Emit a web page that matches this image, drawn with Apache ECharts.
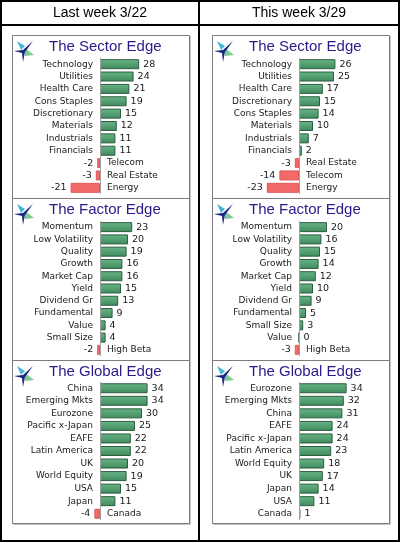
<!DOCTYPE html>
<html>
<head>
<meta charset="utf-8">
<script src="https://cdn.jsdelivr.net/npm/echarts@6/dist/echarts.min.js"></script>
<style>
  html, body { margin: 0; padding: 0; background: #fff; }
  #chart { width: 400px; height: 542px; }
</style>
</head>
<body>
<div id="chart"></div>
<script>
const headers = ["Last week 3/22", "This week 3/29"];
const titles = ["The Sector Edge", "The Factor Edge", "The Global Edge"];

const sectorLastCats = ["Technology", "Utilities", "Health Care", "Cons Staples", "Discretionary", "Materials", "Industrials", "Financials", "Telecom", "Real Estate", "Energy"];
const sectorLastVals = [28, 24, 21, 19, 15, 12, 11, 11, -2, -3, -21];
const sectorThisCats = ["Technology", "Utilities", "Health Care", "Discretionary", "Cons Staples", "Materials", "Industrials", "Financials", "Real Estate", "Telecom", "Energy"];
const sectorThisVals = [26, 25, 17, 15, 14, 10, 7, 2, -3, -14, -23];

const factorLastCats = ["Momentum", "Low Volatility", "Quality", "Growth", "Market Cap", "Yield", "Dividend Gr", "Fundamental", "Value", "Small Size", "High Beta"];
const factorLastVals = [23, 20, 19, 16, 16, 15, 13, 9, 4, 4, -2];
const factorThisCats = ["Momentum", "Low Volatility", "Quality", "Growth", "Market Cap", "Yield", "Dividend Gr", "Fundamental", "Small Size", "Value", "High Beta"];
const factorThisVals = [20, 16, 15, 14, 12, 10, 9, 5, 3, 0, -3];

const globalLastCats = ["China", "Emerging Mkts", "Eurozone", "Pacific x-Japan", "EAFE", "Latin America", "UK", "World Equity", "USA", "Japan", "Canada"];
const globalLastVals = [34, 34, 30, 25, 22, 22, 20, 19, 15, 11, -4];
const globalThisCats = ["Eurozone", "Emerging Mkts", "China", "EAFE", "Pacific x-Japan", "Latin America", "World Equity", "UK", "Japan", "USA", "Canada"];
const globalThisVals = [34, 32, 31, 24, 24, 23, 18, 17, 14, 11, 1];

const panels = [
  { col: 0, row: 0, cats: sectorLastCats, vals: sectorLastVals },
  { col: 1, row: 0, cats: sectorThisCats, vals: sectorThisVals },
  { col: 0, row: 1, cats: factorLastCats, vals: factorLastVals },
  { col: 1, row: 1, cats: factorThisCats, vals: factorThisVals },
  { col: 0, row: 2, cats: globalLastCats, vals: globalLastVals },
  { col: 1, row: 2, cats: globalThisCats, vals: globalThisVals },
];

const FONT = "DejaVu Sans";
const TITLE_FONT = "Liberation Sans";
const TEXT = "#1a1a1a";
const boxLeft = [12, 212];
const boxWidth = 177;
const boxTop = [35, 198, 360, 523];
const zeroX = [100, 299];
const gridTop = [58, 221, 382];
const gridHeight = [136, 135, 138];
const titleY = [47, 210, 372];

const greenStyle = {
  color: new echarts.graphic.LinearGradient(0, 0, 0, 1, [
    { offset: 0, color: "#68b586" },
    { offset: 1, color: "#3f8a5d" },
  ]),
  borderColor: "#2e5c41",
  borderWidth: 1,
};
const redStyle = { color: "#f26a6a", borderColor: "#e05858", borderWidth: 1 };

function logo(x, y) {
  return [
    { type: "polygon", shape: { points: [[x + 4, y + 3], [x + 12, y + 8], [x + 8, y + 12]] }, style: { fill: "#48b4d8" } },
    { type: "polygon", shape: { points: [[x + 12, y + 10], [x + 21, y + 17], [x + 12, y + 18]] }, style: { fill: "#7ccb92" } },
    { type: "polygon", shape: { points: [[x + 20, y + 3], [x + 12, y + 14], [x + 10, y + 24], [x + 9, y + 15], [x + 1, y + 13], [x + 10, y + 12]] }, style: { fill: "#1c2484" } },
  ];
}

const graphics = [];
// outer frame
graphics.push({ type: "rect", shape: { x: 1, y: 1, width: 398, height: 540 }, style: { fill: "none", stroke: "#000", lineWidth: 2 } });
graphics.push({ type: "line", shape: { x1: 0, y1: 25, x2: 400, y2: 25 }, style: { stroke: "#000", lineWidth: 2 } });
graphics.push({ type: "line", shape: { x1: 199, y1: 0, x2: 199, y2: 542 }, style: { stroke: "#000", lineWidth: 2 } });
headers.forEach((h, c) => {
  graphics.push({
    type: "text", x: c === 0 ? 100 : 299, y: 13,
    style: { text: h, fontFamily: TITLE_FONT, fontSize: 14, fill: "#000", align: "center", verticalAlign: "middle" },
  });
});

[0, 1].forEach((c) => {
  const x = boxLeft[c];
  for (let r = 0; r < 3; r++) {
    const y0 = boxTop[r];
    const h = boxTop[r + 1] - y0;
    graphics.push({ type: "rect", shape: { x: x + 0.5, y: y0 + 0.5, width: boxWidth, height: h }, style: { fill: "none", stroke: "#7d7d7d", lineWidth: 1 } });
    graphics.push(...logo(x + 1, y0 + 3));
    graphics.push({
      type: "text", x: x + 37, y: titleY[r],
      style: { text: titles[r], fontFamily: TITLE_FONT, fontSize: 15, fill: "#2a1a8a", verticalAlign: "middle" },
    });
  }
  graphics.push({ type: "line", shape: { x1: x + boxWidth + 1.5, y1: boxTop[0] + 1, x2: x + boxWidth + 1.5, y2: boxTop[3] + 1.5 }, style: { stroke: "#c4c4c4", lineWidth: 1 } });
  graphics.push({ type: "line", shape: { x1: x + 1, y1: boxTop[3] + 1.5, x2: x + boxWidth + 1.5, y2: boxTop[3] + 1.5 }, style: { stroke: "#c4c4c4", lineWidth: 1 } });
});

const grids = [];
const xAxes = [];
const yAxes = [];
const series = [];

panels.forEach((p, i) => {
  grids.push({
    left: zeroX[p.col] - 70, width: 140, top: gridTop[p.row], height: gridHeight[p.row],
    containLabel: false, outerBoundsMode: "none",
  });
  xAxes.push({ type: "value", gridIndex: i, min: -50, max: 50, show: false });
  yAxes.push({ type: "category", gridIndex: i, inverse: true, data: p.cats, show: false });
  series.push({
    type: "bar",
    xAxisIndex: i,
    yAxisIndex: i,
    barWidth: 10,
    barGap: "-100%",
    data: p.vals.map((v) => ({
      value: v,
      itemStyle: v < 0 ? redStyle : greenStyle,
      label: { position: v < 0 ? "left" : "right" },
    })),
    label: { show: true, distance: 4, fontFamily: FONT, fontSize: 9.5, color: TEXT },
    markLine: {
      silent: true,
      symbol: "none",
      label: { show: false },
      lineStyle: { color: "#a0a0a0", width: 1, type: "solid" },
      data: [{ xAxis: 0 }],
    },
    silent: true,
  });
  // category names: left of the zero line for gains, right of it for losses
  series.push({
    type: "bar",
    xAxisIndex: i,
    yAxisIndex: i,
    barWidth: 10,
    barGap: "-100%",
    data: p.vals.map((v) => ({
      value: 0,
      label: { position: v < 0 ? "right" : "left" },
    })),
    itemStyle: { color: "rgba(0,0,0,0)" },
    label: {
      show: true,
      distance: 7,
      fontFamily: FONT,
      fontSize: 9,
      color: TEXT,
      formatter: (d) => p.cats[d.dataIndex],
    },
    silent: true,
  });
});

const chart = echarts.init(document.getElementById("chart"), null, { renderer: "canvas" });
chart.setOption({
  animation: false,
  backgroundColor: "#fff",
  grid: grids,
  xAxis: xAxes,
  yAxis: yAxes,
  series: series,
  graphic: graphics,
});
</script>
</body>
</html>
